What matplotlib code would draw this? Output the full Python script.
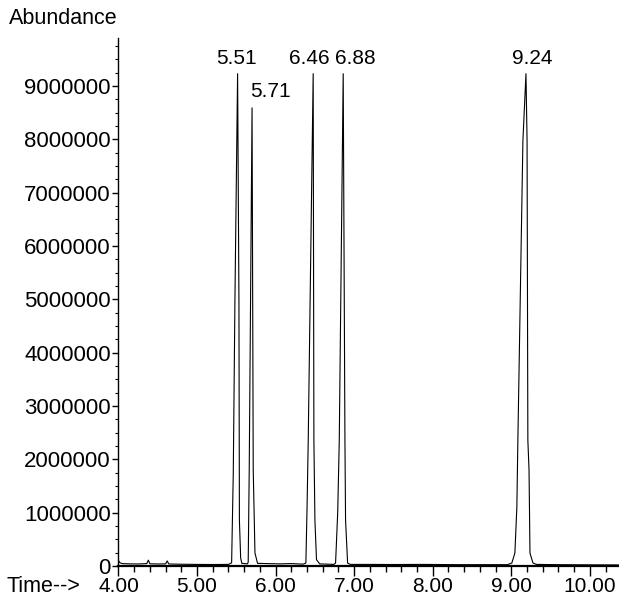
import matplotlib
matplotlib.use("Agg")
import matplotlib.pyplot as plt
from matplotlib.ticker import MultipleLocator

plt.rcParams['font.family'] = ['Liberation Sans', 'DejaVu Sans']

# retention time (min) and abundance (counts)
time_pts = [4.00, 4.02, 4.05, 4.15, 4.25, 4.36, 4.38, 4.40, 4.50, 4.60, 4.62, 4.64,
            4.80, 5.00, 5.20, 5.40,
            5.44, 5.461, 5.482, 5.516, 5.533, 5.539, 5.555, 5.57,
            5.64, 5.651, 5.664, 5.70, 5.715, 5.737, 5.77,
            5.90, 6.05, 6.20, 6.35,
            6.385, 6.40, 6.415, 6.478, 6.487, 6.50, 6.52, 6.56,
            6.65, 6.74,
            6.763, 6.79, 6.81, 6.86, 6.882, 6.89, 6.916, 6.95,
            7.20, 7.50, 7.90, 8.30, 8.70, 8.95,
            9.006, 9.045, 9.07, 9.083, 9.147, 9.186, 9.20, 9.21, 9.225, 9.237, 9.275, 9.32,
            9.60, 10.00, 10.37]
abundance = [100000, 60000, 45000, 40000, 38000, 45000, 110000, 42000, 38000, 40000, 95000, 38000,
             33000, 30000, 28000, 30000,
             60000, 1740000, 4980000, 9230000, 4980000, 860000, 150000, 50000,
             40000, 70000, 1800000, 8590000, 1800000, 243000, 50000,
             45000, 40000, 45000, 35000,
             56000, 1100000, 2360000, 9230000, 2360000, 860000, 120000, 40000,
             35000, 30000,
             56000, 1000000, 2360000, 9230000, 2360000, 860000, 56000, 30000,
             30000, 28000, 30000, 25000, 25000, 25000,
             56000, 243000, 1100000, 2360000, 7970000, 9230000, 7970000, 2360000, 1800000,
             243000, 56000, 30000,
             25000, 22000, 20000]

peak_labels = ["5.51", "5.71", "6.46", "6.88", "9.24"]
label_x = [5.50, 5.93, 6.43, 7.02, 9.26]
label_y = [9.33e6, 8.72e6, 9.33e6, 9.33e6, 9.33e6]

y_ticks = [0, 1000000, 2000000, 3000000, 4000000, 5000000, 6000000, 7000000, 8000000, 9000000]
x_ticks = [4, 5, 6, 7, 8, 9, 10]

fig = plt.figure(figsize=(6.19, 5.98), dpi=100)
ax = fig.add_axes([0.1914, 0.0535, 0.8086, 0.883])

ax.plot(time_pts, abundance, color='black', lw=0.8)

for lab, lx, ly in zip(peak_labels, label_x, label_y):
    ax.text(lx, ly, lab, ha='center', va='bottom', fontsize=15)

ax.set_xlim(4.0, 10.37)
ax.set_ylim(0, 9.9e6)
ax.set_xticks(x_ticks)
ax.set_xticklabels(["%.2f" % v for v in x_ticks])
ax.set_yticks(y_ticks)
ax.set_yticklabels([str(v) for v in y_ticks])
ax.xaxis.set_minor_locator(MultipleLocator(0.2))
ax.yaxis.set_minor_locator(MultipleLocator(250000))

ax.spines['top'].set_visible(False)
ax.spines['right'].set_visible(False)
ax.spines['left'].set_linewidth(1.0)
ax.spines['bottom'].set_linewidth(1.6)

ax.tick_params(axis='x', which='major', length=7, width=1, labelsize=15, pad=1)
ax.tick_params(axis='x', which='minor', length=4, width=1)
ax.tick_params(axis='y', which='major', length=4, width=1, labelsize=16, pad=1.5)
ax.tick_params(axis='y', which='minor', length=2, width=0.8)

fig.text(0.015, 0.952, "Abundance", fontsize=15.5, ha='left', va='bottom')
fig.text(0.010, 0.0535 - 0.0160, "Time-->", fontsize=15.5, ha='left', va='top')

fig.savefig("out.png", dpi=100)
